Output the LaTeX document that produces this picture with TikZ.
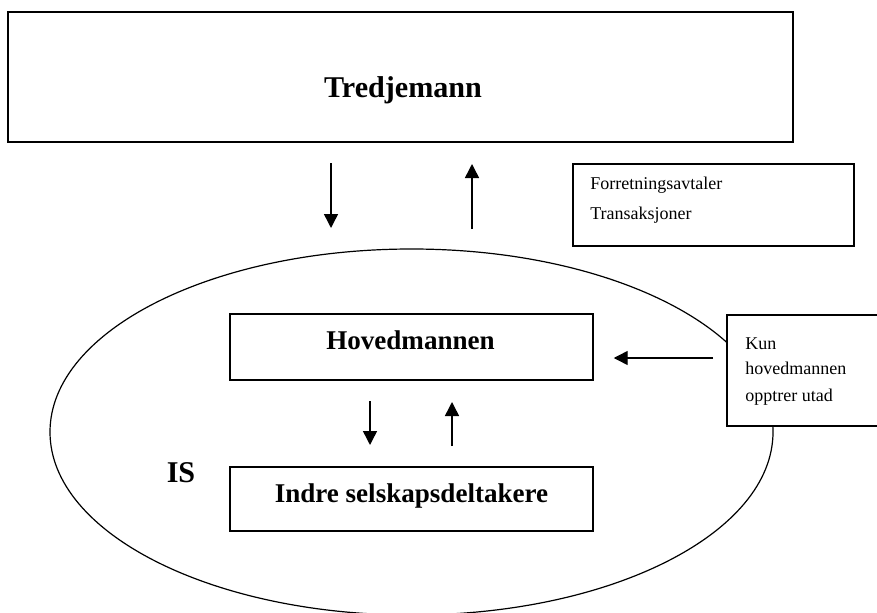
\documentclass[tikz,border=0pt]{standalone}
\usepackage{fontspec}
\setmainfont{Liberation Serif}
\usetikzlibrary{arrows.meta}

\begin{document}
\begin{tikzpicture}[x=0.75pt,y=-0.75pt]
	\tikzset{>={Triangle[length=10.5pt,width=10.5pt]}}
	\tikzset{boks/.style={draw,line width=1.1pt,inner sep=0pt}}
	\tikzset{liten/.style={inner sep=0pt,anchor=base west,font=\fontsize{13.5}{16}\selectfont}}
	\tikzset{fet/.style={inner sep=0pt,anchor=base,font=\bfseries\fontsize{20.3}{24}\selectfont}}
	\useasboundingbox (0,0) rectangle (877,613);
	\clip (0,0) rectangle (877,613);
	
	\node[boks,line width=1.5pt,minimum width=588.75pt,minimum height=97.5pt] (tredje) at (400.5,77) {};
	\node[fet,font=\bfseries\fontsize{22.6}{27}\selectfont] (tredjenavn) at (403,98) {Tredjemann};
	
	\node[boks,minimum width=210.75pt,minimum height=61.5pt] (avtaler) at (713.5,205) {};
	\node[liten] (avtale1) at (590,189) {Forretningsavtaler};
	\node[liten] (avtale2) at (590,219) {Transaksjoner};
	
	\draw[line width=0.9pt] (411.5,432) ellipse [x radius=361.5, y radius=183];
	\node[fet,font=\bfseries\fontsize{22.6}{27}\selectfont] (is) at (181,482) {IS};
	
	\node[boks,minimum width=272.25pt,minimum height=49.5pt] (hoved) at (411.5,347) {};
	\node[fet] (hovednavn) at (410.5,349) {Hovedmannen};
	\node[boks,minimum width=272.25pt,minimum height=48pt] (indre) at (411.5,499) {};
	\node[fet] (indrenavn) at (411.5,502) {Indre selskapsdeltakere};
	
	\node[boks,fill=white,minimum width=129.75pt,minimum height=83.25pt] (kun) at (813.5,370.5) {};
	\node[liten] (kun1) at (745,349) {Kun};
	\node[liten] (kun2) at (745,374) {hovedmannen};
	\node[liten] (kun3) at (745,401) {opptrer utad};
	
	\coordinate (ned1) at (331,163);
	\coordinate (ned2) at (331,228);
	\coordinate (opp1) at (472,229);
	\coordinate (opp2) at (472,164);
	\coordinate (inn1) at (370,401);
	\coordinate (inn2) at (370,445);
	\coordinate (ut1) at (452,446);
	\coordinate (ut2) at (452,402);
	\coordinate (kunpil) at (713,358);
	
	\draw[->,line width=1.1pt] (ned1) -- (ned2);
	\draw[->,line width=1.1pt] (opp1) -- (opp2);
	\draw[->,line width=1.1pt] (inn1) -- (inn2);
	\draw[->,line width=1.1pt] (ut1) -- (ut2);
	\draw[->,line width=1.1pt] (kunpil) -- ([xshift=15pt]kunpil -| hoved.east);
	
\end{tikzpicture}
\end{document}
